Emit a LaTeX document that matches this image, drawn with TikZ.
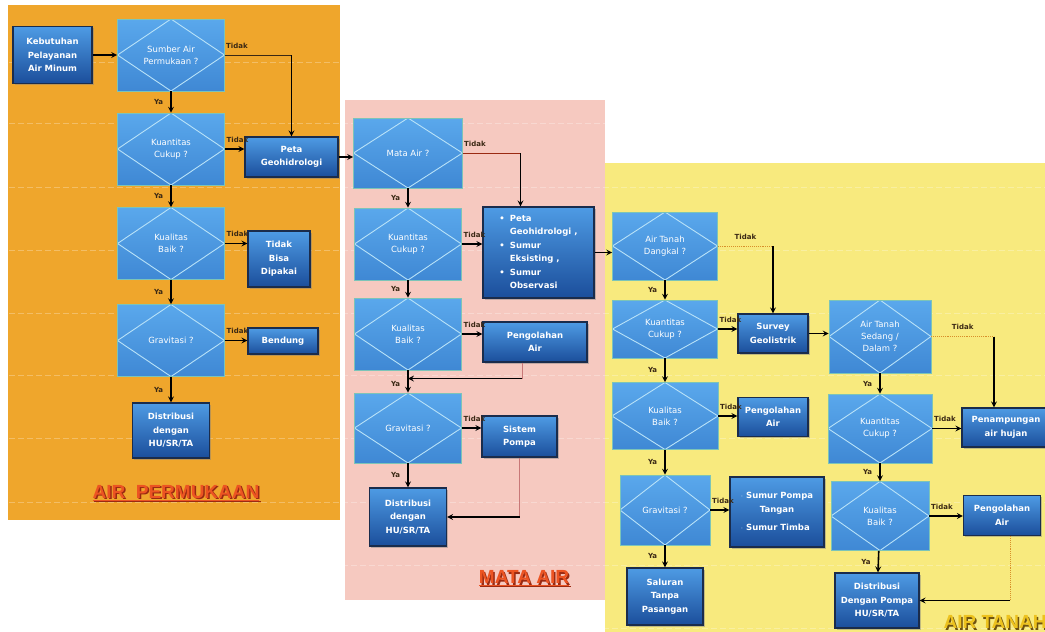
\documentclass[tikz,border=0pt]{standalone}
\usepackage{fontspec}
\setmainfont{DejaVu Sans}
\newfontfamily\titlefont{Liberation Sans}
\usetikzlibrary{shadows}

\definecolor{panelorange}{HTML}{EFA62C}
\definecolor{panelpink}{HTML}{F6C9C0}
\definecolor{panelyellow}{HTML}{F8EA7E}
\definecolor{decTop}{HTML}{5AA8EC}
\definecolor{decBot}{HTML}{3F88D4}
\definecolor{decEdge}{HTML}{7CC4B8}
\definecolor{diamLine}{HTML}{B8E2F8}
\definecolor{procTop}{HTML}{4E9BE4}
\definecolor{procBot}{HTML}{1B4E9B}
\definecolor{procEdge}{HTML}{1A2C4C}
\definecolor{labelBrown}{HTML}{3A2814}
\definecolor{linePink}{HTML}{C87878}
\definecolor{lineOrange}{HTML}{D8902A}
\definecolor{titleRed}{HTML}{EC5422}
\definecolor{titleShade}{HTML}{9A2A12}
\definecolor{titleGold}{HTML}{EDC21E}
\definecolor{titleGoldShade}{HTML}{6E5210}

\tikzset{
  decision/.style={rectangle, top color=decTop, bottom color=decBot, draw=decEdge, line width=0.6pt,
    minimum width=107pt, minimum height=72pt, inner sep=1pt, align=center, text=white,
    font=\fontsize{8.5}{12}\selectfont,
    path picture={\draw[diamLine, line width=0.9pt] (path picture bounding box.north) -- (path picture bounding box.east)
      -- (path picture bounding box.south) -- (path picture bounding box.west) -- cycle;}},
  process/.style={rectangle, top color=procTop, bottom color=procBot, draw=procEdge, line width=1.2pt,
    inner sep=2pt, align=center, text=white, font=\bfseries\fontsize{8.5}{13.5}\selectfont,
    drop shadow={shadow xshift=1.5pt, shadow yshift=-1.5pt, opacity=0.45}},
  flow/.style={->, line width=1.6pt, draw=black},
  thinline/.style={line width=0.8pt, draw=labelBrown},
  dotline/.style={line width=0.9pt, draw=lineOrange, densely dotted},
  ya/.style={font=\bfseries\fontsize{7}{8}\selectfont, text=labelBrown, left=6pt, inner sep=1pt},
  tidak/.style={font=\bfseries\fontsize{7}{8}\selectfont, text=labelBrown, anchor=south west, inner sep=1pt, yshift=5pt},
  title/.style={font=\titlefont\bfseries\fontsize{19}{22}\selectfont},
  gridline/.style={white, opacity=0.28, line width=0.8pt, dash pattern=on 6pt off 3pt}
}

\begin{document}
\begin{tikzpicture}[x=1pt, y=-1pt, >=stealth]
  \useasboundingbox (0,0) rectangle (1045,632);
  \clip (0,0) rectangle (1045,632);

  \fill[panelorange] (8,5) rectangle (340,520);
  \fill[panelpink] (345,100) rectangle (605,600);
  \fill[panelyellow] (605,163) rectangle (1045,632);

  \begin{scope}
    \clip (8,5) rectangle (340,520) (345,100) rectangle (605,600) (605,163) rectangle (1045,632);
    \foreach \gy in {62,123,187,250,313,375,438,502,565,628}
      \draw[gridline] (0,\gy) -- (1045,\gy);
  \end{scope}

  \def\colA{171}
  \def\colB{408}
  \def\colC{665}
  \def\colD{880}

  \node (kebutuhan) [process, minimum width=79pt, minimum height=57pt] at (52.5,55) {Kebutuhan\\Pelayanan\\Air Minum};
  \node (sumber) [decision] at (\colA,55) {Sumber Air\\Permukaan ?};
  \node (kuanA) [decision] at (\colA,149) {Kuantitas\\Cukup ?};
  \node (kualA) [decision] at (\colA,243.5) {Kualitas\\Baik ?};
  \node (gravA) [decision] at (\colA,340.5) {Gravitasi ?};
  \node (distA) [process, minimum width=77pt, minimum height=55pt] at (\colA,430.5) {Distribusi\\dengan\\HU/SR/TA};
  \node (peta) [process, minimum width=93pt, minimum height=40pt] at (291.5,157) {Peta\\Geohidrologi};
  \node (tidakbisa) [process, minimum width=62pt, minimum height=56pt] at (279,259) {Tidak\\Bisa\\Dipakai};
  \node (bendung) [process, minimum width=70pt, minimum height=26pt] at (283,341) {Bendung};

  \draw[flow] (kebutuhan) -- (sumber);
  \draw[thinline] (sumber.east) -- (sumber.east -| peta.north) node[tidak, pos=0] {Tidak};
  \draw[flow] (sumber.east -| peta.north) -- (peta.north);
  \draw[flow] (sumber) -- node[ya] {Ya} (kuanA);
  \draw[flow] (kuanA.east) -- (kuanA.east -| peta.west) node[tidak, pos=0] {Tidak};
  \draw[flow] (kuanA) -- node[ya] {Ya} (kualA);
  \draw[flow] (kualA.east) -- (kualA.east -| tidakbisa.west) node[tidak, pos=0] {Tidak};
  \draw[flow] (kualA) -- node[ya] {Ya} (gravA);
  \draw[flow] (gravA.east) -- (gravA.east -| bendung.west) node[tidak, pos=0] {Tidak};
  \draw[flow] (gravA) -- node[ya] {Ya} (distA);

  \node (mata) [decision, minimum width=109pt, minimum height=70pt] at (\colB,153) {Mata Air ?};
  \node (kuanB) [decision] at (\colB,244) {Kuantitas\\Cukup ?};
  \node (kualB) [decision] at (\colB,334) {Kualitas\\Baik ?};
  \node (gravB) [decision, minimum height=70pt] at (\colB,428) {Gravitasi ?};
  \node (distB) [process, minimum width=77pt, minimum height=58pt] at (\colB,517) {Distribusi\\dengan\\HU/SR/TA};
  \node (survei) [process, minimum width=111pt, minimum height=91pt] at (538.5,252.5) {%
    \begin{tabular}{@{}l@{\hspace{5pt}}l@{}}
      \textbullet & Peta\\ & Geohidrologi ,\\
      \textbullet & Sumur\\ & Eksisting ,\\
      \textbullet & Sumur\\ & Observasi
    \end{tabular}};
  \node (olahB) [process, minimum width=104pt, minimum height=40pt] at (535,342) {Pengolahan\\Air};
  \node (pompaB) [process, minimum width=75pt, minimum height=41pt] at (519.5,436.5) {Sistem\\Pompa};

  \draw[flow] (peta.east) -- (peta.east -| mata.west);
  \coordinate (surveiIn) at ([xshift=-18pt]survei.north);
  \draw[thinline, draw=titleShade] (mata.east) -- (surveiIn |- mata.east) node[tidak, pos=0] {Tidak};
  \draw[flow] (surveiIn |- mata.east) -- (surveiIn);
  \draw[flow] (mata) -- node[ya] {Ya} (kuanB);
  \draw[flow] (kuanB.east) -- (kuanB.east -| survei.west) node[tidak, pos=0] {Tidak};
  \draw[flow] (kuanB) -- node[ya] {Ya} (kualB);
  \draw[flow] (kualB.east) -- (kualB.east -| olahB.west) node[tidak, pos=0] {Tidak};
  \draw[flow] (kualB) -- node[ya, pos=0.6] {Ya} (gravB);
  \coordinate (olahBout) at ([xshift=-13pt]olahB.south);
  \draw[thinline, draw=linePink] (olahBout) -- ++(0,16) coordinate (olahBturn);
  \draw[flow] (olahBturn) -- (olahBturn -| kualB.south);
  \draw[flow] (gravB.east) -- (gravB.east -| pompaB.west) node[tidak, pos=0] {Tidak};
  \draw[flow] (gravB) -- node[ya] {Ya} (distB);
  \draw[thinline, draw=linePink] (pompaB.south) -- (pompaB.south |- distB.east);
  \draw[flow] (pompaB.south |- distB.east) -- (distB.east);

  \node (dangkal) [decision, minimum width=105pt, minimum height=68pt] at (\colC,246) {Air Tanah\\Dangkal ?};
  \node (kuanC) [decision, minimum width=105pt, minimum height=58pt] at (\colC,329) {Kuantitas\\Cukup ?};
  \node (kualC) [decision, minimum width=106pt, minimum height=67pt] at (\colC,416) {Kualitas\\Baik ?};
  \node (gravC) [decision, minimum width=90pt, minimum height=70pt] at (\colC,510) {Gravitasi ?};
  \node (saluran) [process, minimum width=76pt, minimum height=57pt] at (\colC,596.5) {Saluran\\Tanpa\\Pasangan};
  \node (geolistrik) [process, minimum width=70pt, minimum height=39pt] at (773,333.5) {Survey\\Geolistrik};
  \node (olahC) [process, minimum width=70pt, minimum height=39pt] at (773,417) {Pengolahan\\Air};
  \node (sumurC) [process, minimum width=94pt, minimum height=70pt] at (777,512) {%
    \begin{tabular}{@{}l@{}}
      $\cdot$ Sumur Pompa\\ \hfill Tangan\hfill\null\\[5pt]
      $\cdot$ Sumur Timba
    \end{tabular}};
  \node (sedang) [decision, minimum width=102pt, minimum height=73pt] at (\colD,336.5) {Air Tanah\\Sedang /\\Dalam ?};
  \node (kuanD) [decision, minimum width=104pt, minimum height=69pt] at (\colD,428.5) {Kuantitas\\Cukup ?};
  \node (kualD) [decision, minimum width=98pt, minimum height=69pt] at (\colD,516) {Kualitas\\Baik ?};
  \node (distD) [process, minimum width=84pt, minimum height=55pt] at (877,600.5) {Distribusi\\Dengan Pompa\\HU/SR/TA};
  \node (hujan) [process, minimum width=88pt, minimum height=39pt] at (1006,427.5) {Penampungan\\air hujan};
  \node (olahD) [process, minimum width=77pt, minimum height=40pt] at (1002,515.5) {Pengolahan\\Air};

  \draw[flow] (survei.east) -- (survei.east -| dangkal.west);
  \draw[dotline] (dangkal.east) -- (dangkal.east -| geolistrik.north) node[tidak, pos=0.5, anchor=south] {Tidak};
  \draw[flow] (dangkal.east -| geolistrik.north) -- (geolistrik.north);
  \draw[flow] (dangkal) -- node[ya] {Ya} (kuanC);
  \draw[flow] (kuanC.east) -- (kuanC.east -| geolistrik.west) node[tidak, pos=0] {Tidak};
  \draw[flow] (geolistrik.east) -- (geolistrik.east -| sedang.west);
  \draw[flow] (kuanC) -- node[ya] {Ya} (kualC);
  \draw[flow] (kualC.east) -- (kualC.east -| olahC.west) node[tidak, pos=0] {Tidak};
  \draw[flow] (kualC) -- node[ya] {Ya} (gravC);
  \draw[flow] (gravC.east) -- (gravC.east -| sumurC.west) node[tidak, pos=0] {Tidak};
  \draw[flow] (gravC) -- node[ya] {Ya} (saluran);

  \coordinate (hujanIn) at ([xshift=-12pt]hujan.north);
  \draw[dotline] (sedang.east) -- (sedang.east -| hujanIn) node[tidak, pos=0.5, anchor=south] {Tidak};
  \draw[flow] (sedang.east -| hujanIn) -- (hujanIn);
  \draw[flow] (sedang) -- node[ya] {Ya} (kuanD);
  \draw[flow] (kuanD.east) -- (kuanD.east -| hujan.west) node[tidak, pos=0] {Tidak};
  \draw[flow] (kuanD) -- node[ya] {Ya} (kualD);
  \draw[flow] (kualD.east) -- (kualD.east -| olahD.west) node[tidak, pos=0] {Tidak};
  \draw[flow] (kualD) -- node[ya] {Ya} (distD);
  \coordinate (olahDout) at ([xshift=8pt]olahD.south);
  \draw[dotline] (olahDout) -- (olahDout |- distD.east);
  \draw[flow] (olahDout |- distD.east) -- (distD.east);

  \node (permukaanShade) [title, text=titleShade] at (177.5,494.5) {\underline{AIR\ \ PERMUKAAN}};
  \node (permukaan) [title, text=titleRed] at (176,493) {\underline{AIR\ \ PERMUKAAN}};
  \node (mataShade) [title, text=titleShade] at (525.5,579.5) {\underline{MATA AIR}};
  \node (mataTitle) [title, text=titleRed] at (524,578) {\underline{MATA AIR}};
  \node (tanahShade) [title, text=titleGoldShade, anchor=west] at (941.5,623.5) {AIR TANAH};
  \node (tanah) [title, text=titleGold, anchor=west] at (940,622) {AIR TANAH};
\end{tikzpicture}
\end{document}
